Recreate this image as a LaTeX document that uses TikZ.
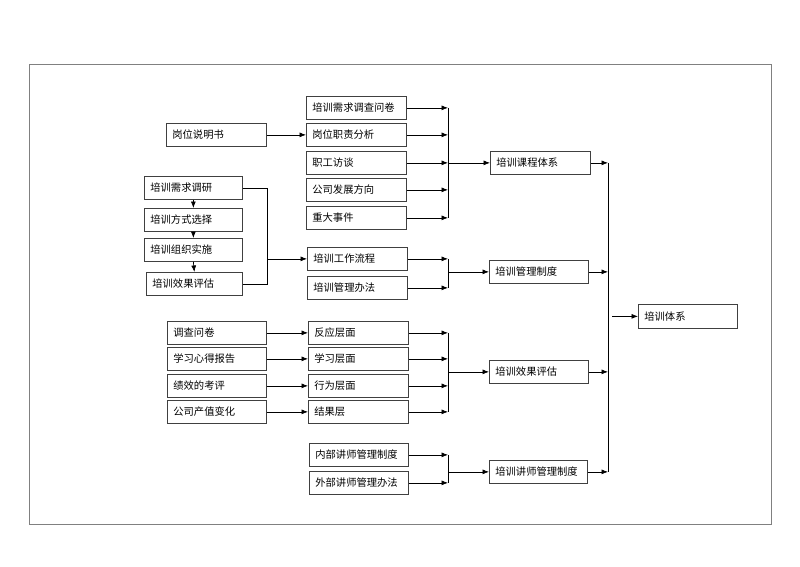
\documentclass[tikz,border=0pt]{standalone}
\usepackage{fontspec}
\newfontfamily\cjk{Noto Sans CJK SC}
\usetikzlibrary{arrows.meta}
\tikzset{
  box/.style={draw=black!75,line width=0.7pt,anchor=north west,minimum height=23pt,
    text width=88pt,inner xsep=6pt,inner ysep=0pt,align=left,
    font=\cjk\fontsize{10.3}{12}\selectfont},
  arr/.style={line width=0.7pt,-{Latex[length=6.5pt,width=5pt]}},
  ln/.style={line width=0.7pt}
}
\begin{document}
\begin{tikzpicture}[x=1pt,y=-1pt]
  \useasboundingbox (0,0) rectangle (800,566);
  \draw[gray,line width=0.7pt] (29,64) rectangle (771,524);

  % course system
  \node[box] (xqdc) at (306,96) {培训需求调查问卷};
  \node[box] (gwzz) at (306,123) {岗位职责分析};
  \node[box] (zgft) at (306,151) {职工访谈};
  \node[box] (gsfz) at (306,178) {公司发展方向};
  \node[box] (zdsj) at (306,206) {重大事件};
  \node[box] (gwsm) at (166,123) {岗位说明书};
  \node[box] (kctx) at (490,151) {培训课程体系};

  % management system
  \node[box,text width=86pt] (xqdy) at (144,176) {培训需求调研};
  \node[box,text width=86pt] (fsxz) at (144,208) {培训方式选择};
  \node[box,text width=86pt] (zzss) at (144,238) {培训组织实施};
  \node[box,text width=84pt] (xgpg) at (146,272) {培训效果评估};
  \node[box] (gzlc) at (307,247) {培训工作流程};
  \node[box] (glbf) at (307,276) {培训管理办法};
  \node[box,text width=87pt] (glzd) at (489,260) {培训管理制度};

  % evaluation
  \node[box,text width=87pt] (dcwj) at (167,321) {调查问卷};
  \node[box,text width=87pt] (xxxd) at (167,347) {学习心得报告};
  \node[box,text width=87pt] (jxkp) at (167,374) {绩效的考评};
  \node[box,text width=87pt] (czbh) at (167,400) {公司产值变化};
  \node[box] (fycm) at (308,321) {反应层面};
  \node[box] (xxcm) at (308,347) {学习层面};
  \node[box] (xwcm) at (308,374) {行为层面};
  \node[box] (jgc) at (308,400) {结果层};
  \node[box,text width=87pt] (xgzt) at (489,360) {培训效果评估};

  % lecturers
  \node[box,text width=87pt] (nbjs) at (309,443) {内部讲师管理制度};
  \node[box,text width=87pt] (wbjs) at (309,471) {外部讲师管理办法};
  \node[box,text width=86pt] (jszd) at (489,460) {培训讲师管理制度};

  \node[box,text width=87pt,minimum height=24pt] (pxtx) at (638,304) {培训体系};

  \coordinate (brk) at (448,0);
  \coordinate (lp) at (267,0);
  \coordinate (bus) at (608,0);
  \coordinate (bus2) at (612,0);

  % left arrows
  \draw[arr] (gwsm.east) -- (gwzz.west);
  \foreach \a/\b in {dcwj/fycm,xxxd/xxcm,jxkp/xwcm,czbh/jgc}
    \draw[arr] (\a.east) -- (\b.west);
  \foreach \a/\b in {xqdy/fsxz,fsxz/zzss,zzss/xgpg}
    \draw[arr] (\a.south) -- (\b.north);
  \draw[ln] (xqdy.east) -| (lp |- xgpg.east) -- (xgpg.east);
  \draw[arr] (lp |- gzlc.west) -- (gzlc.west);

  % brackets
  \foreach \n in {xqdc,gwzz,zgft,gsfz,zdsj,gzlc,glbf,fycm,xxcm,xwcm,jgc,nbjs,wbjs}
    \draw[arr] (\n.east) -- (\n.east -| brk);
  \draw[ln] (brk |- xqdc.east) -- (brk |- zdsj.east);
  \draw[ln] (brk |- gzlc.east) -- (brk |- glbf.east);
  \draw[ln] (brk |- fycm.east) -- (brk |- jgc.east);
  \draw[ln] (brk |- nbjs.east) -- (brk |- wbjs.east);
  \draw[arr] (brk |- kctx.west) -- (kctx.west);
  \draw[arr] (brk |- glzd.west) -- (glzd.west);
  \draw[arr] (brk |- xgzt.west) -- (xgzt.west);
  \draw[arr] (brk |- jszd.west) -- (jszd.west);

  % right bus
  \foreach \n in {kctx,glzd,xgzt,jszd}
    \draw[arr] (\n.east) -- (\n.east -| bus);
  \draw[ln] (bus |- kctx.east) -- (bus |- jszd.east);
  \draw[arr] (bus2 |- pxtx.west) -- (pxtx.west);
\end{tikzpicture}
\end{document}
